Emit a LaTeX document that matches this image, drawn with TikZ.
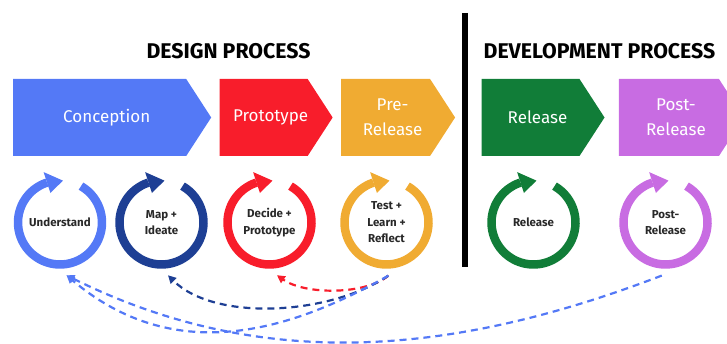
\documentclass[tikz,border=0pt]{standalone}
\usepackage{fontspec}
\setmainfont{Fira Sans}
\usetikzlibrary{positioning}
\usetikzlibrary{arrows.meta}
\usetikzlibrary{calc}
\usetikzlibrary{shapes.symbols}
\definecolor{concolor}{RGB}{84,121,246}
\definecolor{mapcolor}{RGB}{30,63,148}
\definecolor{protocolor}{RGB}{248,29,43}
\definecolor{precolor}{RGB}{240,171,50}
\definecolor{relcolor}{RGB}{17,125,56}
\definecolor{postcolor}{RGB}{200,108,226}
\definecolor{labelgray}{RGB}{40,40,40}

\begin{document}
\begin{tikzpicture}[
    x=1pt, y=1pt,
    stage/.style={shape=signal, signal to=east, signal pointer angle=114, fill=#1, minimum height=77pt, inner sep=0pt},
    stagetext/.style={text=white, align=center, font=\fontsize{17}{25}\selectfont},
    activity/.style={circle, minimum size=106pt, inner sep=0pt, align=center, text=labelgray, font=\bfseries\fontsize{11.5}{16.5}\selectfont},
    heading/.style={font=\bfseries\fontsize{21.3}{24}\selectfont},
    ring/.style={line width=8.5pt},
    feedback/.style={draw=#1, line width=2.2pt, dash pattern=on 7pt off 5pt, -{Triangle[length=8pt,width=8pt]}}
]
\useasboundingbox (0,0) rectangle (727,343);

% Headings and divider
\node[heading] (design) at (228.5,291.5) {DESIGN PROCESS};
\node[heading] (develop) at (599.5,292) {DEVELOPMENT PROCESS};
\draw[line width=6pt] (465,330) -- (465,76);

% Stages
\node[stage=concolor, minimum width=198pt, anchor=west] (conception) at (13,225.5) {};
\node[stage=protocolor, minimum width=113pt, right=8pt of conception] (prototype) {};
\node[stage=precolor, minimum width=114pt, right=8pt of prototype] (prerelease) {};
\node[stage=relcolor, minimum width=123pt, right=26pt of prerelease] (release) {};
\node[stage=postcolor, minimum width=125pt, right=14pt of release] (postrelease) {};
\foreach \s/\t in {conception/Conception, prototype/Prototype, prerelease/{Pre-\\Release}, release/Release, postrelease/{Post-\\Release}}
  \node[stagetext] (\s-text) at ([xshift=7pt]\s.center) {\t};

% Activities
\node[activity] (understand) at (60,120.5) {Understand};
\node[activity] (mapideate) at (161.5,120.5) {Map +\\Ideate};
\node[activity] (decide) at (269.5,120.5) {Decide +\\Prototype};
\node[activity] (test) at (386.5,120.5) {Test +\\Learn +\\Reflect};
\node[activity] (releaseloop) at (533.5,120.5) {Release};
\node[activity] (postloop) at (665.5,120.5) {Post-\\Release};

% Cycle arrows round each activity
\foreach \n/\c in {understand/concolor, mapideate/mapcolor, decide/protocolor, test/precolor, releaseloop/relcolor, postloop/postcolor} {
  \draw[ring, \c] (\n.center) ++(60:42pt) arc[start angle=60, end angle=-252, radius=42pt];
  \fill[\c] ($(\n.center)+(108:31pt)$) -- ($(\n.center)+(108:53pt)$) -- ($(\n.center)+(86:42pt)$) -- cycle;
}

% Feedback loops
\draw[feedback=protocolor] (test.-88) .. controls (365,48) and (305,48) .. (decide.-82);
\draw[feedback=mapcolor] (test.-88) .. controls (330,28) and (215,21) .. (mapideate.-83);
\draw[feedback=concolor] (test.-88) .. controls (275,3) and (167,-17) .. (understand.-83);
\draw[feedback=concolor] (postloop.-94) .. controls (457,-11) and (265,-31) .. (understand.-83);
\end{tikzpicture}
\end{document}
